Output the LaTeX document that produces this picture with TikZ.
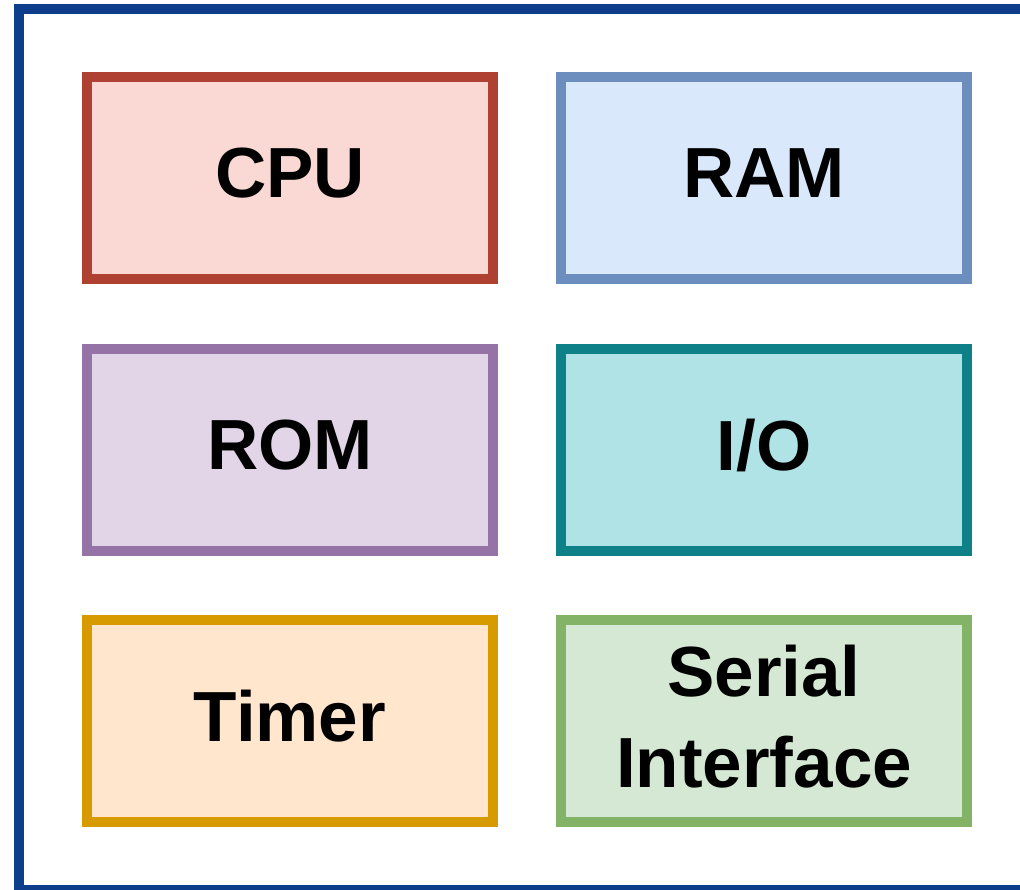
\documentclass[tikz,border=0pt]{standalone}
\usepackage{fontspec}
\setmainfont{Liberation Sans}
\usetikzlibrary{positioning}
\definecolor{frame}{HTML}{0E3D8B}
\definecolor{cpuf}{HTML}{FAD9D5}
\definecolor{cpud}{HTML}{AE4132}
\definecolor{ramf}{HTML}{DAE8FC}
\definecolor{ramd}{HTML}{6C8EBF}
\definecolor{romf}{HTML}{E1D5E7}
\definecolor{romd}{HTML}{9673A6}
\definecolor{iof}{HTML}{B0E3E6}
\definecolor{iod}{HTML}{0E8088}
\definecolor{timf}{HTML}{FFE6CC}
\definecolor{timd}{HTML}{D79B00}
\definecolor{serf}{HTML}{D5E8D4}
\definecolor{serd}{HTML}{82B366}

\begin{document}
\begin{tikzpicture}[x=1pt, y=-1pt,
      node distance=59.5pt and 58pt,
      block/.style={draw, line width=10pt, minimum width=406pt, minimum height=202pt,
        inner sep=0pt, text depth=10pt, align=center, font=\fontsize{71}{91}\selectfont\bfseries}]
    \clip (0,0) rectangle (1020,889);
    \useasboundingbox (0,0) rectangle (1020,889);
    % outer frame, runs off the right and bottom edge
    \draw[frame, line width=10pt] (19,9) rectangle (1040,889.5);
    % the six blocks
    \node[block, draw=cpud, fill=cpuf] (cpu) at (290,178) {CPU};
    \node[block, draw=ramd, fill=ramf, right=of cpu] (ram) {RAM};
    \node[block, draw=romd, fill=romf, below=of cpu] (rom) {ROM};
    \node[block, draw=iod, fill=iof, right=of rom] (io) {I/O};
    \node[block, draw=timd, fill=timf, below=of rom] (timer) {Timer};
    \node[block, draw=serd, fill=serf, right=of timer] (serial) {Serial\\Interface};
  \end{tikzpicture}
\end{document}
